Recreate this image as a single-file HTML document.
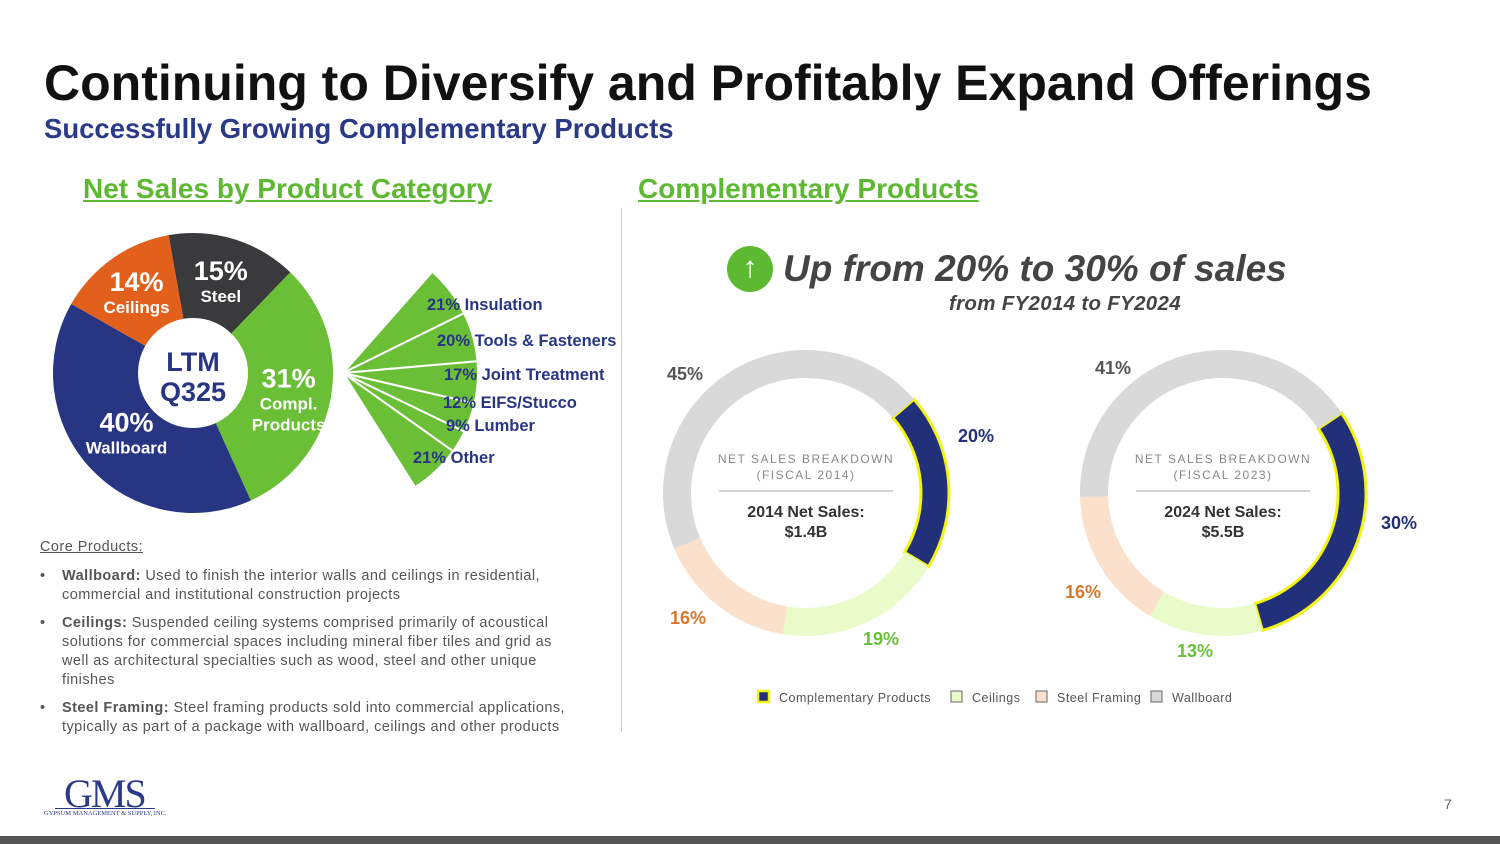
<!DOCTYPE html>
<html><head><meta charset="utf-8"><style>
body{margin:0;width:1500px;height:844px;background:#fff;font-family:"Liberation Sans",sans-serif;overflow:hidden;position:relative}
.a{position:absolute;white-space:nowrap}
</style></head><body>
<div class="a" style="left:44px;top:54px;font-size:50px;font-weight:bold;color:#111">Continuing to Diversify and Profitably Expand Offerings</div>
<div class="a" style="left:44px;top:113px;font-size:27.5px;font-weight:bold;color:#2a3a86">Successfully Growing Complementary Products</div>
<div class="a" style="left:83px;top:173px;font-size:28px;font-weight:bold;color:#5db832;text-decoration:underline">Net Sales by Product Category</div>
<div class="a" style="left:638px;top:173px;font-size:28px;font-weight:bold;color:#5db832;text-decoration:underline">Complementary Products</div>
<div class="a" style="left:621px;top:208px;width:1px;height:524px;background:#ccc"></div>
<div class="a" style="left:727px;top:246px;width:46px;height:46px;border-radius:50%;background:#5db832;color:#fff;font-size:30px;text-align:center;line-height:44px">↑</div>
<div class="a" style="left:783px;top:248px;font-size:37px;font-weight:bold;font-style:italic;color:#444">Up from 20% to 30% of sales</div>
<div class="a" style="left:949px;top:292px;font-size:20.5px;font-weight:bold;font-style:italic;color:#444;letter-spacing:0.3px">from FY2014 to FY2024</div>

<svg id="chart" width="1500" height="844" style="position:absolute;left:0;top:0"></svg>

<div class="a" style="left:40px;top:538px;font-size:14.5px;color:#555;line-height:19px;white-space:normal;width:530px;letter-spacing:0.45px">
<div style="text-decoration:underline;margin-bottom:10px">Core Products:</div>
<div style="padding-left:22px;position:relative;margin-bottom:9px"><span style="position:absolute;left:0">•</span><b>Wallboard:</b> Used to finish the interior walls and ceilings in residential, commercial and institutional construction projects</div>
<div style="padding-left:22px;position:relative;margin-bottom:9px"><span style="position:absolute;left:0">•</span><b>Ceilings:</b> Suspended ceiling systems comprised primarily of acoustical solutions for commercial spaces including mineral fiber tiles and grid as well as architectural specialties such as wood, steel and other unique finishes</div>
<div style="padding-left:22px;position:relative"><span style="position:absolute;left:0">•</span><b>Steel Framing:</b> Steel framing products sold into commercial applications, typically as part of a package with wallboard, ceilings and other products</div>
</div>
<div class="a" style="left:64px;top:770px;font-family:'Liberation Serif',serif;font-size:40px;color:#2a3a86;letter-spacing:-2px">GMS</div>
<div class="a" style="left:55px;top:808px;width:100px;height:1px;background:#2a3a86"></div>
<div class="a" style="left:44px;top:810px;font-family:'Liberation Serif',serif;font-size:6.5px;color:#2a3a86">GYPSUM MANAGEMENT &amp; SUPPLY, INC.</div>
<div class="a" style="left:1444px;top:796px;font-size:14px;color:#666">7</div>
<div class="a" style="left:0;top:836px;width:1500px;height:8px;background:#555"></div>

<script>
const pieCats=["Compl. Products","Wallboard","Ceilings","Steel"];
const pieVals=[31,40,14,15];
const fanCats=["Insulation","Tools & Fasteners","Joint Treatment","EIFS/Stucco","Lumber","Other"];
const fanVals=[21,20,17,12,9,21];
const donutCats=["Complementary Products","Ceilings","Steel Framing","Wallboard"];
const donut2014=[20,19,16,45];
const donut2024=[30,13,16,41];

// layout only (label anchor positions)
const fanLabelPos=[[427,310],[437,346],[444,380],[443,408],[446,431],[413,463]];

const NS="http://www.w3.org/2000/svg";
const svg=document.getElementById('chart');
function mk(t,at,p){const e=document.createElementNS(NS,t);for(const k in at)e.setAttribute(k,at[k]);(p||svg).appendChild(e);return e;}
function pt(cx,cy,r,a){const rad=a*Math.PI/180;return [cx+r*Math.sin(rad),cy-r*Math.cos(rad)];}
function arc(cx,cy,r0,r1,a0,a1){const L=(a1-a0)>180?1:0;const p1=pt(cx,cy,r1,a0),p2=pt(cx,cy,r1,a1);
 if(r0<=0)return `M${cx},${cy}L${p1}A${r1},${r1} 0 ${L} 1 ${p2}Z`;
 const p3=pt(cx,cy,r0,a1),p4=pt(cx,cy,r0,a0);
 return `M${p1}A${r1},${r1} 0 ${L} 1 ${p2}L${p3}A${r0},${r0} 0 ${L} 0 ${p4}Z`;}

// Main pie
const pieColors=["#6abf36","#283583","#e2601c","#3a3a3c"];
const pcx=193,pcy=373,pr=140;
let a=44;const pieTot=pieVals.reduce((s,v)=>s+v,0);
pieVals.forEach((v,i)=>{const sw=v/pieTot*360;
 const s=mk('path',{d:arc(pcx,pcy,0,pr,a,a+sw),fill:pieColors[i]});
 
 
 const m=a+sw/2;const lp=pt(pcx,pcy,[97,90,98,95][i],m);
 const short=["Compl.","Wallboard","Ceilings","Steel"][i];
 const t=mk('text',{x:lp[0],y:lp[1]-2,'text-anchor':'middle',fill:'#fff','font-size':27,'font-weight':'bold','font-family':'Liberation Sans, sans-serif'});
 t.textContent=v+'%';
 
 
 const t2=mk('text',{x:lp[0],y:lp[1]+20,'text-anchor':'middle',fill:'#fff','font-size':17,'font-weight':'bold','font-family':'Liberation Sans, sans-serif'});
 t2.textContent=short;
 
 
 if(i==0){const t3=mk('text',{x:lp[0],y:lp[1]+41,'text-anchor':'middle',fill:'#fff','font-size':17,'font-weight':'bold','font-family':'Liberation Sans, sans-serif'});t3.textContent='Products';
  
  }
 a+=sw;});
const hole=mk('circle',{cx:pcx,cy:pcy,r:55,fill:'#fff'});


[['LTM',-2],['Q325',28]].forEach(([s,dy])=>{const t=mk('text',{x:pcx,y:pcy+dy,'text-anchor':'middle',fill:'#283583','font-size':27,'font-weight':'bold','font-family':'Liberation Sans, sans-serif'});t.textContent=s;
 
 });

// Fan breakdown
const fx=343,fy=373,fr=135,fa0=41.4,fa1=147.7;
const fanTot=fanVals.reduce((s,v)=>s+v,0);
let fa=fa0;
fanVals.forEach((v,i)=>{const sw=v/fanTot*(fa1-fa0);
 const s=mk('path',{d:arc(fx,fy,0,fr,fa,fa+sw),fill:'#6abf36',stroke:'#fff','stroke-width':2});
 
 
 fa+=sw;});
fanVals.forEach((v,i)=>{
 const t=mk('text',{x:fanLabelPos[i][0],y:fanLabelPos[i][1],fill:'#283583','font-size':16.5,'font-weight':'bold','font-family':'Liberation Sans, sans-serif'});
 t.textContent=v+'% '+fanCats[i];
 
 });

// Donuts
const dColors=["#22307a","#e8fbc8","#fbe0cc","#d9d9d9"];
const lblColors=["#22307a","#6abf36","#d9772c","#555"];
function donut(cx,cy,vals,start,yr,line2,lblPos){
 const tot=vals.reduce((s,v)=>s+v,0);let a=start;
 vals.forEach((v,i)=>{const sw=v/tot*360;
  const s=mk('path',{d:arc(cx,cy,115,143,a,a+sw),fill:dColors[i]});
  
  
  if(i==0){s.setAttribute('stroke','#f3f315');s.setAttribute('stroke-width','3');}
  const t=mk('text',{x:lblPos[i][0],y:lblPos[i][1],'text-anchor':'middle',fill:lblColors[i],'font-size':18,'font-weight':'bold','font-family':'Liberation Sans, sans-serif'});
  t.textContent=v+'%';
  
  
  a+=sw;});
 const ft=yr==2014?'2014':'2023';
 [['NET SALES BREAKDOWN',-30],['(FISCAL '+ft+')',-14]].forEach(([s,dy])=>{const t=mk('text',{x:cx,y:cy+dy,'text-anchor':'middle',fill:'#888','font-size':12,'letter-spacing':'1.5','font-family':'Liberation Sans, sans-serif'});t.textContent=s;
  
  });
 const ln=mk('line',{x1:cx-87,x2:cx+87,y1:cy-2,y2:cy-2,stroke:'#aaa','stroke-width':1});
 
 
 [[yr+' Net Sales:',24],[line2,44]].forEach(([s,dy])=>{const t=mk('text',{x:cx,y:cy+dy,'text-anchor':'middle',fill:'#333','font-size':16,'font-weight':'bold','font-family':'Liberation Sans, sans-serif'});t.textContent=s;
  
  });
}
donut(806,493,donut2014,49,2014,'$1.4B',[[976,442],[881,645],[688,624],[685,380]]);
donut(1223,493,donut2024,56,2024,'$5.5B',[[1399,529],[1195,657],[1083,598],[1113,374]]);

// Legend
let lx=758;
donutCats.forEach((c,i)=>{
 const r=mk('rect',{x:lx,y:691,width:11,height:11,fill:dColors[i],stroke:i==0?'#f3f315':'#666','stroke-width':i==0?2.5:1});
 
 
 const t=mk('text',{x:lx+21,y:702,fill:'#555','font-size':12.5,'letter-spacing':'0.5','font-family':'Liberation Sans, sans-serif'});
 t.textContent=c;
 
 
 lx+=[193,85,115,0][i];
});
</script>
</body></html>
